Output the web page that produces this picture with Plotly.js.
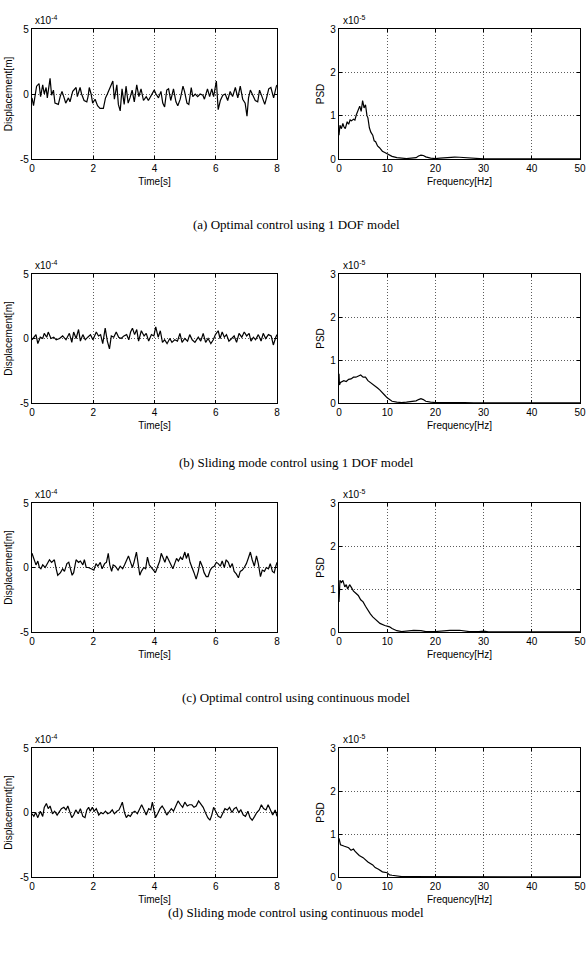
<!DOCTYPE html>
<html>
<head>
<meta charset="utf-8">
<script src="https://cdn.plot.ly/plotly-3.0.1.min.js"></script>
<style>html,body{margin:0;padding:0;background:#fff;}#chart{width:588px;height:953px;}</style>
</head>
<body>
<div id="chart"></div>
<script>
// ---- Data (displacement in units of 1e-4 m, PSD in units of 1e-5) ----
const captions = [
  "(a) Optimal control using 1 DOF model",
  "(b) Sliding mode control using 1 DOF model",
  "(c) Optimal control using continuous model",
  "(d) Sliding mode control using continuous model"
];
const timeTicks = [0, 2, 4, 6, 8];
const dispTicks = [-5, 0, 5];
const freqTicks = [0, 10, 20, 30, 40, 50];
const psdTicks = [0, 1, 2, 3];

const tA = [0,0.05,0.15,0.23,0.28,0.35,0.40,0.46,0.50,0.59,
0.64,0.70,0.75,0.86,0.92,0.98,1.05,1.10,1.19,1.24,
1.33,1.44,1.48,1.57,1.62,1.70,1.79,1.83,1.87,1.93,
1.98,2.06,2.14,2.22,2.33,2.40,2.46,2.55,2.64,2.69,
2.77,2.82,2.88,2.94,3.01,3.07,3.14,3.20,3.27,3.34,
3.42,3.49,3.56,3.64,3.73,3.80,3.91,3.99,4.05,4.13,
4.21,4.27,4.33,4.40,4.46,4.53,4.62,4.70,4.76,4.84,
4.93,4.98,5.06,5.12,5.20,5.25,5.33,5.41,5.49,5.58,
5.63,5.73,5.80,5.87,5.93,6.02,6.08,6.15,6.23,6.31,
6.39,6.47,6.55,6.64,6.72,6.80,6.88,6.96,7.02,7.07,
7.13,7.20,7.29,7.37,7.43,7.51,7.60,7.67,7.73,7.80,
7.89,7.98,8.0];
const dA = [-0.3,-0.9,0.6,0.8,-0.2,0.7,0,0.5,-0.3,1.2,
-0.1,0.3,-0.7,-0.8,-0.2,0.2,-0.3,-0.7,-0.3,-0.6,
0.2,0.5,-0.2,0.5,0,-0.5,-0.6,-0.2,0.5,0,
-0.7,-0.4,-0.9,-1.1,-1.1,-0.3,0,0.5,1.0,-0.4,
0.7,-0.8,-1.3,0.4,-0.8,0.6,-0.7,-0.3,0.3,-0.6,
0.7,-0.2,0.4,-0.5,-0.2,-0.5,0,0.3,0,-0.3,
0.2,-0.7,-1.0,0.3,0.4,-0.5,0.4,-0.6,-0.9,-0.4,
0.6,0.2,-0.7,-0.8,0.5,-0.2,0,-0.2,0,-0.1,
-0.4,0.4,-0.2,0.4,-0.2,1.0,-1.2,-0.5,-0.1,0,
-0.5,0.2,-0.2,0.5,-0.3,0.6,-0.4,-0.7,-1.7,-0.3,
0.3,-0.1,-0.5,-0.6,0.3,-0.2,-0.8,-0.2,0.4,0.5,
-0.3,0.6,0.7];

const tB = [0,0.08,0.13,0.19,0.27,0.35,0.40,0.48,0.53,0.62,
0.71,0.79,0.90,1.00,1.11,1.22,1.30,1.36,1.44,1.52,
1.58,1.66,1.74,1.82,1.91,1.99,2.10,2.17,2.24,2.31,
2.39,2.46,2.53,2.59,2.67,2.75,2.83,2.91,3.00,3.09,
3.16,3.22,3.28,3.35,3.42,3.48,3.57,3.66,3.73,3.81,
3.90,3.98,4.04,4.12,4.19,4.26,4.33,4.41,4.50,4.57,
4.66,4.75,4.83,4.90,4.99,5.08,5.15,5.23,5.32,5.43,
5.51,5.59,5.67,5.75,5.84,5.92,5.99,6.08,6.14,6.21,
6.28,6.35,6.43,6.52,6.60,6.68,6.76,6.85,6.93,7.01,
7.09,7.15,7.23,7.30,7.39,7.48,7.55,7.63,7.72,7.81,
7.88,7.96,8.0];
const dB = [-0.1,0.1,0.3,-0.4,0.1,0,0.4,0.1,0.5,0,
0.1,-0.1,0,0.2,-0.1,0.4,-0.3,0.5,0,0.7,
-0.2,0.3,-0.1,0.1,0.3,-0.1,0.5,0.2,0.3,-0.4,
0.8,-0.2,-0.8,0.2,0.1,0.5,0.1,0,0.2,0.3,
-0.1,0.5,0.8,0.3,0.7,-0.2,0.6,0.2,0.4,-0.2,
0.3,0.2,0.9,0.1,0.6,-0.3,-0.1,-0.4,0,-0.3,
-0.1,-0.2,0.4,-0.3,0,-0.2,0.3,-0.1,-0.3,0.1,
-0.2,0.4,-0.3,0,-0.4,-0.1,0.3,0.6,0,0.5,
0.1,0.3,-0.2,0,0.2,-0.3,0.4,0.1,0.5,0.2,
0.4,-0.2,0.1,-0.1,0.3,-0.2,0.4,0,0.3,0.2,
-0.5,0.1,0.3];

const tC = [0,0.08,0.13,0.19,0.24,0.29,0.35,0.43,0.51,0.57,
0.64,0.73,0.79,0.84,0.93,1.00,1.06,1.14,1.20,1.26,
1.31,1.36,1.44,1.52,1.58,1.66,1.71,1.77,1.84,1.93,
2.02,2.09,2.15,2.23,2.29,2.37,2.43,2.49,2.54,2.60,
2.65,2.72,2.81,2.88,2.96,3.02,3.10,3.15,3.22,3.28,
3.33,3.41,3.46,3.52,3.57,3.65,3.71,3.77,3.83,3.90,
3.96,4.03,4.09,4.17,4.22,4.29,4.34,4.40,4.47,4.53,
4.60,4.66,4.72,4.78,4.85,4.91,4.99,5.04,5.10,5.16,
5.23,5.29,5.36,5.43,5.49,5.56,5.62,5.69,5.75,5.82,
5.88,5.95,6.02,6.08,6.15,6.21,6.28,6.34,6.41,6.47,
6.54,6.60,6.67,6.74,6.80,6.87,6.93,7.00,7.06,7.13,
7.19,7.26,7.33,7.39,7.46,7.52,7.59,7.65,7.72,7.78,
7.85,7.91,7.96,8.0];
const dC = [1.1,0.6,0.2,0.5,0,-0.1,0.2,0,0.4,0.6,
0.4,0.6,-0.1,-0.6,-0.4,-0.1,-0.3,0.3,0.4,-0.3,
-0.6,-0.4,0.6,0.4,0.5,0.2,0.6,0,0,-0.1,
-0.2,0.3,0.1,0.4,-0.1,0.3,0.4,1.1,0.2,-0.3,
0.2,0.1,-0.2,0.1,-0.1,0.2,0.6,0.9,0.4,0,
0.4,1.2,0.4,-0.6,-0.3,0,-0.1,0.8,0.2,0,
-0.2,-0.4,0,0.5,1.1,0.6,0.4,0.9,0.5,0.3,
-0.1,0.3,0.7,0.5,0.8,0.6,1.2,0.7,1.1,0.4,
0,-0.4,-0.9,-0.3,0.5,0.1,-0.4,-0.7,-0.7,-0.2,
0,0.1,0.4,0.3,0.1,0.5,0,0.6,0.4,0,
0.3,-0.3,-0.5,-0.8,-0.3,-0.2,0,0.3,0.7,1.2,
0.6,0.1,0.9,0.3,-0.7,-0.2,-0.3,0,-0.1,0.3,
-0.3,-0.4,0.1,0.4];

const tD = [0,0.06,0.12,0.19,0.27,0.35,0.40,0.47,0.53,0.59,
0.67,0.74,0.82,0.89,0.96,1.04,1.11,1.17,1.24,1.30,
1.36,1.43,1.51,1.58,1.66,1.73,1.79,1.85,1.90,1.97,
2.03,2.10,2.18,2.25,2.32,2.40,2.47,2.55,2.62,2.69,
2.77,2.84,2.90,2.95,3.02,3.08,3.14,3.21,3.29,3.36,
3.44,3.51,3.58,3.66,3.73,3.81,3.88,3.93,3.98,4.03,
4.10,4.18,4.25,4.33,4.40,4.47,4.55,4.62,4.70,4.77,
4.85,4.92,4.99,5.07,5.14,5.22,5.29,5.36,5.44,5.51,
5.59,5.66,5.74,5.81,5.87,5.93,6.01,6.08,6.16,6.23,
6.30,6.38,6.45,6.53,6.60,6.67,6.75,6.82,6.90,6.97,
7.05,7.12,7.19,7.27,7.34,7.42,7.49,7.56,7.64,7.71,
7.79,7.86,7.94,8.0];
const dD = [-0.1,-0.3,0,-0.4,0.1,-0.3,0.4,0.7,0.3,0.5,
-0.1,0.1,-0.2,0.1,0.3,0.4,0.2,0.5,-0.1,-0.4,
-0.2,0.2,-0.1,0.3,-0.3,-0.4,0.2,0.4,0.1,0.4,
0.1,0.3,-0.2,0,-0.1,0.1,-0.1,0,0.2,-0.1,
0.1,0.2,0.5,0.8,0,-0.4,-0.2,-0.3,0,0.1,
-0.1,0.2,0.6,0.2,-0.2,0.3,0.2,0.8,0.2,-0.4,
-0.1,0.3,0.5,0.2,-0.2,0,0.3,0.1,0.5,0.9,
0.6,0.4,0.8,0.5,0.6,0.6,0.4,0.5,0.9,0.7,
0.4,0,-0.4,-0.6,-0.2,0.4,0,-0.3,-0.4,-0.1,
0.3,0.2,0.4,0,0.3,0.4,0,0.2,-0.2,-0.3,
0.1,-0.4,-0.6,-0.3,0,0.2,0.6,0.3,0.2,0.6,
0.1,-0.2,0.2,-0.3];

const fA = [0,0.2,0.5,0.8,1.0,1.3,1.7,2.0,2.3,2.6,
3.0,3.3,3.6,4.0,4.3,4.6,4.9,5.2,5.5,5.8,
6.0,6.3,6.6,7.0,7.3,7.6,8.0,8.4,9.0,9.5,
10,10.5,11,12,13,14,15,16,16.5,17,
17.5,18,19,20,21,22,23,24,25,26,
27,28,29,30,35,40,45,50];
const pA = [0.55,0.78,0.7,0.82,0.75,0.7,0.86,0.8,0.9,0.88,
0.92,0.9,1.02,1.15,1.22,1.1,1.35,1.18,1.25,1.0,
0.95,0.72,0.62,0.55,0.42,0.4,0.3,0.26,0.18,0.15,
0.12,0.09,0.06,0.03,0.02,0.01,0.02,0.03,0.07,0.09,
0.08,0.05,0.02,0.01,0.02,0.03,0.04,0.045,0.04,0.035,
0.02,0.01,0.005,0.003,0.002,0.002,0.001,0.002];

const fB = [0,0.1,0.3,0.6,1.0,1.5,2.0,2.5,3.0,3.5,
4.0,4.5,5.0,5.5,6.0,6.5,7.0,7.5,8.0,8.5,
9.0,9.5,10,10.5,11,12,13,14,15,16,
16.5,17,17.5,18,19,20,22,24,26,28,
30,35,40,45,50];
const pB = [0.68,0.42,0.48,0.5,0.52,0.5,0.55,0.56,0.6,0.6,
0.62,0.65,0.6,0.6,0.52,0.48,0.45,0.4,0.35,0.3,
0.25,0.18,0.12,0.07,0.04,0.02,0.01,0.02,0.03,0.05,
0.08,0.1,0.08,0.04,0.02,0.01,0.01,0.015,0.01,0.005,
0.003,0.002,0.001,0.001,0.001];

const fC = [0,0.2,0.5,0.8,1.2,1.5,1.8,2.2,2.5,3.0,
3.5,4.0,4.5,5.0,5.5,6.0,6.5,7.0,7.5,8.0,
8.5,9.5,10.5,11,12,13,14,15.5,17,18,
20,21,23,25,26,27,29,30,31,35,
40,45,50];
const pC = [0.7,1.2,1.15,1.2,1.05,1.1,1.0,1.1,1.05,0.95,
0.9,0.85,0.75,0.7,0.6,0.5,0.42,0.35,0.3,0.25,
0.2,0.15,0.12,0.08,0.03,0.01,0.02,0.04,0.03,0.01,
0.01,0.02,0.04,0.04,0.03,0.01,0.01,0.02,0.002,0.001,
0.001,0.001,0.001];

const fD = [0,0.3,1.0,1.5,2.0,2.5,3.0,3.3,3.8,4.2,
5.0,5.5,6.0,7.0,7.5,8.2,9.0,10,10.5,11,
12,13,14,16,18,19,20,22,25,27,
28,30,35,40,45,50];
const pD = [0.9,0.75,0.72,0.7,0.68,0.62,0.65,0.6,0.55,0.5,
0.45,0.4,0.35,0.28,0.22,0.18,0.12,0.1,0.05,0.04,
0.02,0.01,0.01,0.01,0.012,0.008,0.005,0.01,0.012,0.01,
0.004,0.002,0.001,0.001,0.001,0.001];

const timeSeries = [[tA,dA],[tB,dB],[tC,dC],[tD,dD]];
const psdSeries = [[fA,pA],[fB,pB],[fC,pC],[fD,pD]];

// ---- Layout geometry (pixels) ----
const W = 588, H = 953;
const rowsPx = [[29,159],[274,403],[503,632],[748,877]];
const captionY = [224, 462, 697, 912];
const leftPx = [32, 277], rightPx = [339, 580];

const tickFont = {family: 'Liberation Sans, Arial, sans-serif', size: 10, color: '#000'};
const titleFont = {family: 'Liberation Sans, Arial, sans-serif', size: 10, color: '#000'};

function baseAxis() {
  return {
    showline: true, mirror: 'ticks', linecolor: '#000', linewidth: 1.2,
    ticks: 'inside', ticklen: 3, tickcolor: '#000', tickwidth: 1,
    showgrid: true, gridcolor: '#333', griddash: '1px,2px', gridwidth: 0.8,
    zeroline: false, tickfont: tickFont, fixedrange: true, automargin: false,
    ticklabeloverflow: 'allow'
  };
}

const traces = [];
const layout = {
  width: W, height: H,
  margin: {l: 0, r: 0, t: 0, b: 0},
  paper_bgcolor: '#fff', plot_bgcolor: '#fff',
  showlegend: false,
  annotations: []
};

for (let i = 0; i < 4; i++) {
  const yDom = [1 - rowsPx[i][1] / H, 1 - rowsPx[i][0] / H];
  const li = 2 * i + 1, ri = 2 * i + 2;
  const xName = (n) => n === 1 ? 'x' : 'x' + n;
  const yName = (n) => n === 1 ? 'y' : 'y' + n;
  const kx = (n) => n === 1 ? 'xaxis' : 'xaxis' + n;
  const ky = (n) => n === 1 ? 'yaxis' : 'yaxis' + n;

  traces.push({x: timeSeries[i][0], y: timeSeries[i][1], type: 'scatter', mode: 'lines',
    line: {color: '#000', width: 1.2}, xaxis: xName(li), yaxis: yName(li), hoverinfo: 'skip'});
  traces.push({x: psdSeries[i][0], y: psdSeries[i][1], type: 'scatter', mode: 'lines',
    line: {color: '#000', width: 1.2}, xaxis: xName(ri), yaxis: yName(ri), hoverinfo: 'skip'});

  layout[kx(li)] = Object.assign(baseAxis(), {
    domain: [leftPx[0] / W, leftPx[1] / W], anchor: yName(li),
    range: [0, 8], tickvals: timeTicks, ticktext: timeTicks.map(String),
    title: {text: 'Time[s]', font: titleFont, standoff: 4}
  });
  layout[ky(li)] = Object.assign(baseAxis(), {
    domain: yDom, anchor: xName(li),
    range: [-5, 5], tickvals: dispTicks, ticktext: dispTicks.map(String),
    title: {text: 'Displacement[m]', font: titleFont, standoff: 5}
  });
  layout[kx(ri)] = Object.assign(baseAxis(), {
    domain: [rightPx[0] / W, rightPx[1] / W], anchor: yName(ri),
    range: [0, 50], tickvals: freqTicks, ticktext: freqTicks.map(String),
    title: {text: 'Frequency[Hz]', font: titleFont, standoff: 4}
  });
  layout[ky(ri)] = Object.assign(baseAxis(), {
    domain: yDom, anchor: xName(ri),
    range: [0, 3], tickvals: psdTicks, ticktext: psdTicks.map(String),
    title: {text: 'PSD', font: titleFont, standoff: 3}
  });

  layout.annotations.push({
    xref: 'paper', yref: 'paper', x: (leftPx[0] + 1) / W, y: 1 - (rowsPx[i][0] - 1) / H,
    xanchor: 'left', yanchor: 'bottom', showarrow: false,
    text: 'x10<sup>-4</sup>', font: tickFont
  });
  layout.annotations.push({
    xref: 'paper', yref: 'paper', x: (rightPx[0] + 2) / W, y: 1 - (rowsPx[i][0] - 1) / H,
    xanchor: 'left', yanchor: 'bottom', showarrow: false,
    text: 'x10<sup>-5</sup>', font: tickFont
  });
  layout.annotations.push({
    xref: 'paper', yref: 'paper', x: 296 / W, y: 1 - captionY[i] / H,
    xanchor: 'center', yanchor: 'middle', showarrow: false,
    text: captions[i],
    font: {family: 'Liberation Serif, Times New Roman, serif', size: 13, color: '#000'}
  });
}

Plotly.newPlot('chart', traces, layout, {staticPlot: true, displayModeBar: false});
</script>
</body>
</html>
